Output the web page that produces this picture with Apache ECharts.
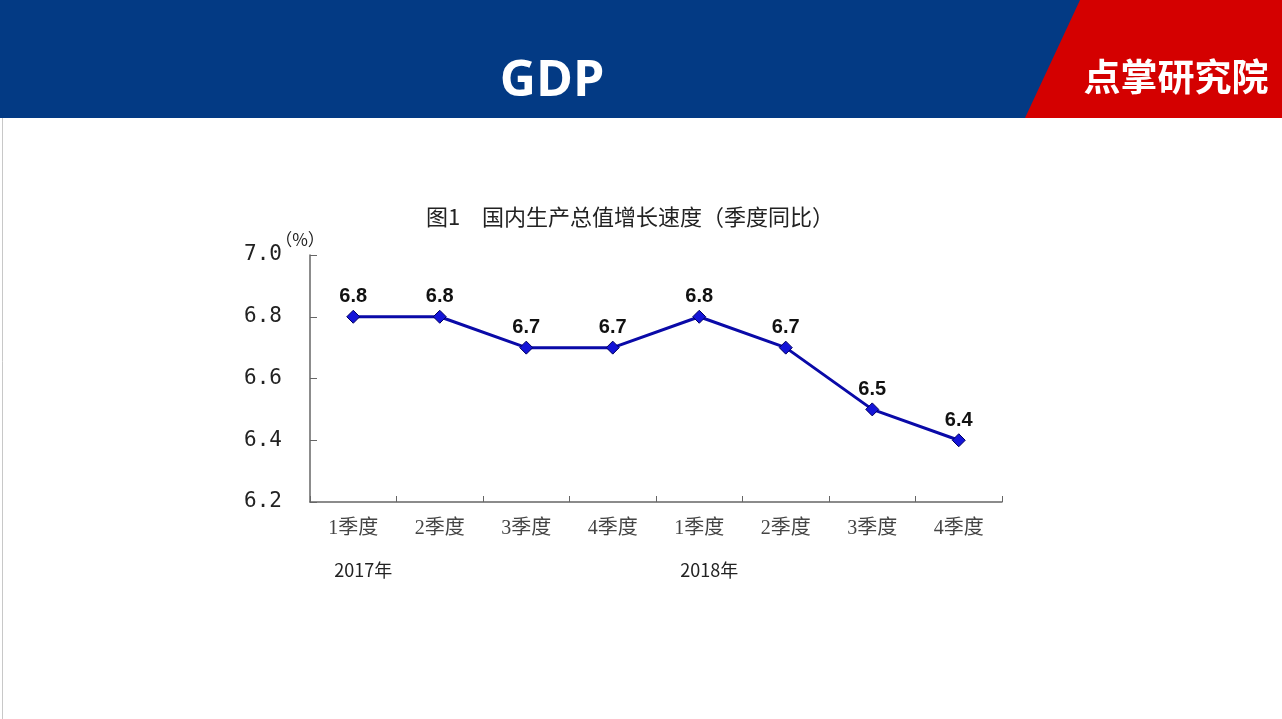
<!DOCTYPE html>
<html>
<head>
<meta charset="utf-8">
<script src="https://cdn.jsdelivr.net/npm/echarts@6/dist/echarts.min.js"></script>
<style>
html,body{margin:0;padding:0;background:#fff;}
#main{width:1282px;height:719px;}
</style>
</head>
<body>
<div id="main"></div>
<script>
const categories = ['1季度','2季度','3季度','4季度','1季度','2季度','3季度','4季度'];
const yearLabels = ['2017年','','','','2018年','','',''];
const growth = [6.8, 6.8, 6.7, 6.7, 6.8, 6.7, 6.5, 6.4];
const chartTitle = '图1\u3000国内生产总值增长速度（季度同比）';
const headerTitle = 'GDP';
const brand = '点掌研究院';

const chart = echarts.init(document.getElementById('main'));
chart.setOption({
  backgroundColor: '#ffffff',
  animation: false,
  title: {
    text: chartTitle,
    left: 625, top: 201,
    textAlign: 'center',
    textStyle: {fontFamily: '"Noto Sans CJK SC"', fontSize: 22, fontWeight: 'normal', color: '#222'}
  },
  graphic: [
    {type: 'rect', left: 0, top: 0, shape: {x: 0, y: 0, width: 1281, height: 718}, style: {fill: 'none', stroke: '#c8c8c8', lineWidth: 1}, z: 0},
    {type: 'rect', shape: {x: 0, y: 0, width: 1282, height: 118}, style: {fill: '#033a84'}, z: 1},
    {type: 'polygon', shape: {points: [[1080, 0], [1282, 0], [1282, 118], [1025, 118]]}, style: {fill: '#d40000'}, z: 2},
    {type: 'text', x: 552, y: 82, style: {text: headerTitle, fill: '#ffffff', font: 'bold 50px "Open Sans", "Noto Sans"', textAlign: 'center', textVerticalAlign: 'middle'}, z: 3},
    {type: 'text', x: 1176, y: 77, style: {text: brand, fill: '#ffffff', font: 'bold 37px "Noto Sans CJK SC"', textAlign: 'center', textVerticalAlign: 'middle'}, z: 3},
    {type: 'text', x: 300, y: 240, style: {text: '（%）', fill: '#222', font: '17px "Noto Sans CJK SC"', textAlign: 'center', textVerticalAlign: 'middle'}, z: 3}
  ],
  grid: {left: 310, right: 280, top: 255, bottom: 217},
  xAxis: [
    {
      type: 'category', data: categories, position: 'bottom',
      axisLine: {lineStyle: {color: '#666', width: 1.5}},
      axisTick: {show: true, alignWithLabel: false, length: 6, inside: true, lineStyle: {color: '#666'}},
      axisLabel: {margin: 17, fontSize: 20, color: '#444', fontFamily: '"Liberation Serif", "Noto Sans CJK SC"'}
    },
    {
      type: 'category', data: yearLabels, position: 'bottom', offset: 43,
      axisLine: {show: false}, axisTick: {show: false},
      axisLabel: {margin: 16, fontSize: 18, color: '#222', fontFamily: '"Noto Sans CJK SC"', interval: 0,
        padding: [0, 0, 0, 20]}
    }
  ],
  yAxis: {
    type: 'value', min: 6.2, max: 7.0, interval: 0.2,
    axisLine: {show: true, lineStyle: {color: '#666', width: 1.5}},
    axisTick: {show: true, inside: true, length: 7, lineStyle: {color: '#666'}},
    splitLine: {show: false},
    axisLabel: {margin: 28, fontSize: 21, color: '#222', fontFamily: '"DejaVu Sans Mono"',
      formatter: v => v.toFixed(1)}
  },
  series: [{
    type: 'line', data: growth,
    xAxisIndex: 0,
    lineStyle: {color: '#0a0aa8', width: 3},
    symbol: 'diamond', symbolSize: 13,
    itemStyle: {color: '#1414d8', borderColor: '#000060', borderWidth: 1},
    label: {show: true, position: 'top', distance: 3, fontSize: 20, fontWeight: 'bold', color: '#111',
      fontFamily: '"Liberation Sans", Arial', formatter: p => p.value.toFixed(1)}
  }]
});
</script>
</body>
</html>
